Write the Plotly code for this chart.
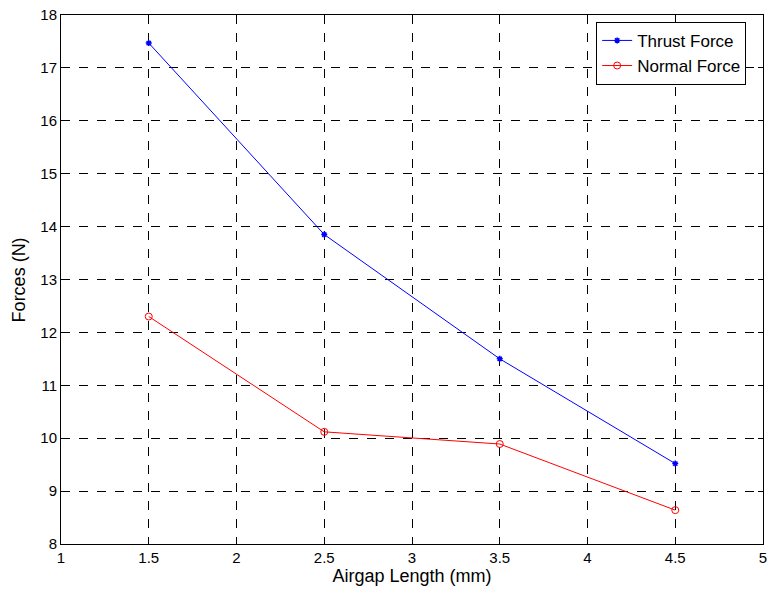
import plotly.graph_objects as go

airgap = [1.5, 2.5, 3.5, 4.5]
thrust = [17.47, 13.85, 11.5, 9.52]
normal = [12.3, 10.12, 9.89, 8.64]
x_ticks = [1, 1.5, 2, 2.5, 3, 3.5, 4, 4.5, 5]
x_tick_text = ["1", "1.5", "2", "2.5", "3", "3.5", "4", "4.5", "5"]
y_ticks = [8, 9, 10, 11, 12, 13, 14, 15, 16, 17, 18]

FONT = "Liberation Sans, Arial, Helvetica"

fig = go.Figure()
fig.add_trace(go.Scatter(x=airgap, y=thrust, mode="lines+markers", name="Thrust Force",
                         line=dict(color="#0000ff", width=1),
                         marker=dict(symbol="asterisk-open", size=5, color="#0000ff",
                                     line=dict(width=1.5, color="#0000ff"))))
fig.add_trace(go.Scatter(x=airgap, y=normal, mode="lines+markers", name="Normal Force",
                         line=dict(color="#ff0000", width=1),
                         marker=dict(symbol="circle-open", size=7, color="#ff0000",
                                     line=dict(width=1, color="#ff0000"))))

axis_common = dict(showline=True, linecolor="black", linewidth=1, mirror="ticks",
                   ticks="inside", ticklen=5, tickcolor="black",
                   showgrid=True, gridcolor="black", griddash="dash", gridwidth=1,
                   zeroline=False, automargin=False,
                   tickfont=dict(family=FONT, size=15, color="black"))

fig.update_xaxes(range=[1, 5], tickvals=x_ticks, ticktext=x_tick_text,
                 title=dict(text="Airgap Length (mm)", font=dict(family=FONT, size=18, color="black"),
                            standoff=0),
                 **axis_common)
fig.update_yaxes(range=[8, 18], tickvals=y_ticks, **axis_common)

fig.add_annotation(text="Forces (N)", xref="paper", yref="paper", x=-0.06, y=0.5,
                   xanchor="center", yanchor="middle", textangle=-90, showarrow=False,
                   font=dict(family=FONT, size=18, color="black"))

fig.update_layout(width=768, height=594, plot_bgcolor="white", paper_bgcolor="white",
                  margin=dict(l=61, r=5, t=15, b=50),
                  font=dict(family=FONT, size=15, color="black"),
                  legend=dict(x=0.976, y=0.987, xanchor="right", yanchor="top",
                              bgcolor="white", bordercolor="black", borderwidth=1,
                              font=dict(family=FONT, size=17, color="black"),
                              itemwidth=30, tracegroupgap=0))

fig.write_html("out.html", config={"displayModeBar": False},
               post_script="document.body.style.margin='0';document.body.style.overflow='hidden';")
